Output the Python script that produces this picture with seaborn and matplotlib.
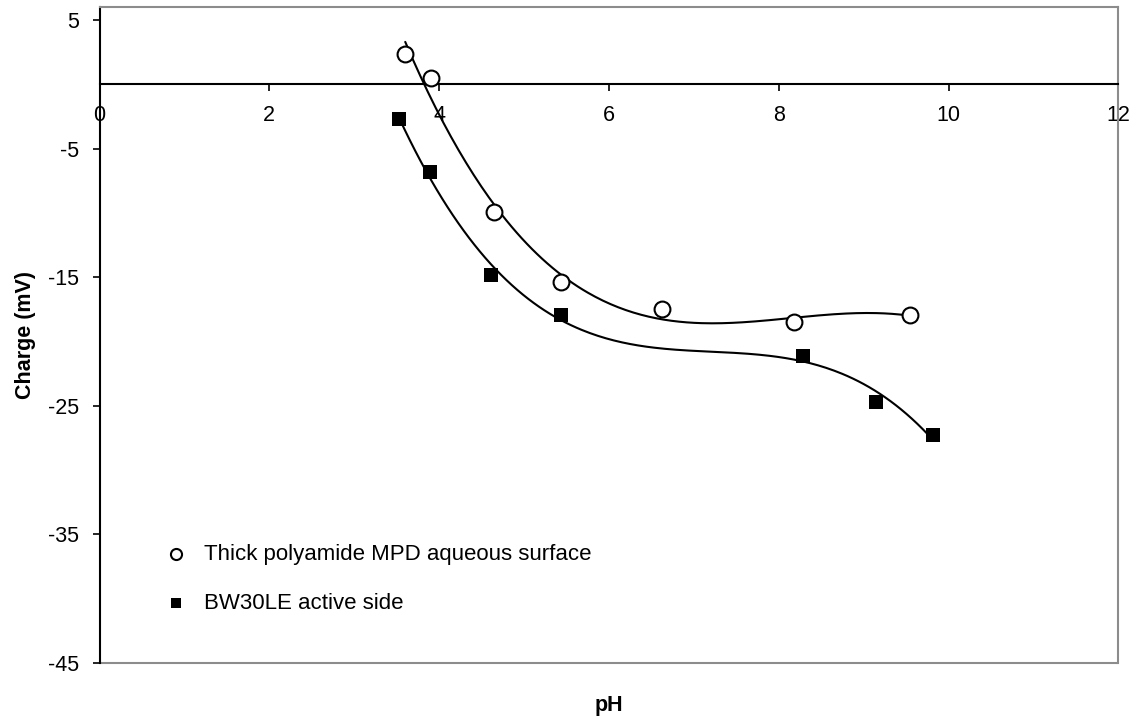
import numpy as np
import pandas as pd
import matplotlib
matplotlib.use("Agg")
import matplotlib.pyplot as plt
import seaborn as sns

# data
ph_thick = [3.60, 3.90, 4.65, 5.44, 6.62, 8.18, 9.54]
charge_thick = [2.4, 0.5, -9.9, -15.4, -17.5, -18.5, -17.9]
ph_bw30 = [3.53, 3.89, 4.61, 5.43, 8.28, 9.15, 9.82]
charge_bw30 = [-2.7, -6.8, -14.8, -17.9, -21.1, -24.7, -27.3]

label_thick = "Thick polyamide MPD aqueous surface"
label_bw30 = "BW30LE active side"
x_ticks = [0, 2, 4, 6, 8, 10, 12]
y_ticks = [5, -5, -15, -25, -35, -45]

sns.set_style("white")
plt.rcParams["font.family"] = ["Liberation Sans", "DejaVu Sans"]
plt.rcParams["axes.unicode_minus"] = False
for k in ["text.color", "axes.labelcolor", "xtick.color", "ytick.color"]:
    plt.rcParams[k] = "black"

fig = plt.figure(figsize=(11.39, 7.22), dpi=100)
ax = fig.add_axes([0.0874, 0.0817, 0.8946, 0.909])


# polynomial trendlines (like the spreadsheet's)
def trend(xs, ys, deg=3):
    coef = np.polyfit(xs, ys, deg)
    xx = np.linspace(min(xs), max(xs), 200)
    return pd.DataFrame({"x": xx, "y": np.polyval(coef, xx)})


t1 = trend(ph_thick, charge_thick)
t2 = trend(ph_bw30, charge_bw30)
sns.lineplot(data=t1, x="x", y="y", color="black", lw=1.5, ax=ax, legend=False)
sns.lineplot(data=t2, x="x", y="y", color="black", lw=1.5, ax=ax, legend=False)

sns.scatterplot(x=ph_thick, y=charge_thick, marker="o", s=130, facecolor="white",
                edgecolor="black", linewidth=1.5, label=label_thick, ax=ax, zorder=3)
sns.scatterplot(x=ph_bw30, y=charge_bw30, marker="s", s=90, color="black",
                edgecolor="black", linewidth=0, label=label_bw30, ax=ax, zorder=3)

ax.set_xlim(0, 12)
ax.set_ylim(-45, 6.05)
ax.set_xticks(x_ticks)
ax.set_yticks(y_ticks)

# x axis crosses at zero, grey frame round the plot area
ax.spines["bottom"].set_position(("data", 0))
ax.spines["bottom"].set_color("black")
ax.spines["left"].set_color("black")
for s in ["bottom", "left"]:
    ax.spines[s].set_linewidth(1.5)
for s in ["top", "right"]:
    ax.spines[s].set_color("#8c8c8c")
    ax.spines[s].set_linewidth(1.5)
ax.plot([0, 1], [0, 0], transform=ax.transAxes, color="#8c8c8c", lw=1.5, clip_on=False)

ax.tick_params(axis="x", direction="out", length=5, width=1.2, pad=10, labelsize=15.5,
               bottom=True, colors="black")
ax.tick_params(axis="y", direction="out", length=5, width=1.2, pad=10, labelsize=15.5,
               left=True, colors="black")

ax.set_xlabel("pH", fontsize=15.5, fontweight="bold")
ax.set_ylabel("Charge (mV)", fontsize=15.5, fontweight="bold")
ax.xaxis.set_label_coords(0.5, -0.048)
ax.yaxis.set_label_coords(-0.062, 0.5)

ax.legend(loc="upper left", bbox_to_anchor=(0.064, 0.181), frameon=False, fontsize=16,
          borderaxespad=0, borderpad=0, handlelength=1.0, handletextpad=0.75,
          labelspacing=1.23, markerscale=0.7)

fig.savefig("out.png", dpi=100)
